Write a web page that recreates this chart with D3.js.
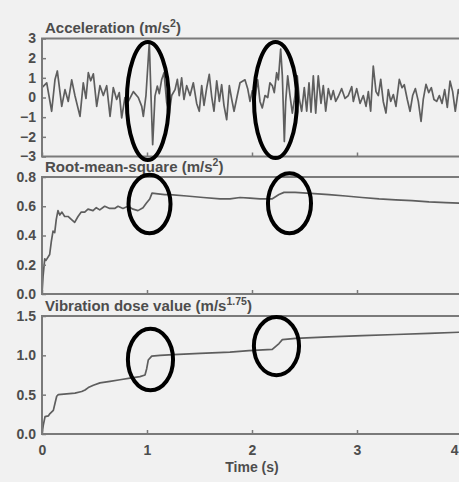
<!DOCTYPE html>
<html>
<head>
<meta charset="utf-8">
<script src="https://cdn.jsdelivr.net/npm/d3@7"></script>
<style>
  html, body { margin: 0; padding: 0; background: #f1f1f1; }
  svg { display: block; }
  text { font-family: "Liberation Sans", Arial, sans-serif; font-weight: bold; fill: #4d4d4d; }
</style>
</head>
<body>
<svg id="chart" width="459" height="482"></svg>
<script>
// time axis (s)
const timeTicks = [0, 1, 2, 3, 4];

// acceleration trace, [time s, m/s2]
const accel = [
  [0, 0.5], [0.045, 0.74], [0.092, -0.7], [0.124, 0.92], [0.146, 1.35], [0.188, -0.45],
  [0.219, 0.4], [0.25, -0.2], [0.283, 0.9], [0.314, 0.09], [0.362, -0.96], [0.393, 0.74],
  [0.419, -0.05], [0.441, 1.26], [0.464, 0.85], [0.489, 1.2], [0.521, -0.45], [0.552, 0.6],
  [0.584, 0.1], [0.616, 0.6], [0.648, -0.96], [0.679, 0.5], [0.711, -0.1], [0.736, 0.25],
  [0.759, -1.04], [0.79, 0], [0.822, -0.2], [0.87, 0.3], [0.917, 0], [0.95, -0.45],
  [0.965, -0.96], [0.99, 0.1], [1.022, 2.8], [1.038, 0.1], [1.054, -2.4], [1.076, 0.07],
  [1.098, 0.58], [1.117, 0.2], [1.14, 0.92], [1.162, 1.26], [1.188, -0.27], [1.212, -0.77],
  [1.235, 0.1], [1.267, 0.4], [1.289, 0.92], [1.307, 0.1], [1.33, 1.0], [1.352, -0.1],
  [1.378, 0.6], [1.41, 0.1], [1.441, 0.75], [1.473, -0.3], [1.498, -0.7], [1.521, 0.6],
  [1.543, -0.4], [1.569, 0.5], [1.593, 1.18], [1.616, 0.05], [1.638, -0.7], [1.664, 0.85],
  [1.689, -0.2], [1.711, 0.65], [1.733, -0.4], [1.759, -1.13], [1.784, 0.6], [1.807, -0.1],
  [1.829, -0.7], [1.86, 0.1], [1.886, 0.75], [1.933, 0.9], [1.959, 0.45], [1.981, -0.2],
  [2.003, 0.35], [2.029, 0.0], [2.054, 0.9], [2.076, -0.2], [2.098, -0.53], [2.124, 0.1],
  [2.15, 0.0], [2.171, 0.75], [2.194, 0.6], [2.212, 0.25], [2.235, 1.26], [2.251, 0.9],
  [2.273, 2.46], [2.289, 1.1], [2.308, -2.24], [2.321, -0.2], [2.34, 1.1], [2.362, 0.1],
  [2.384, -0.79], [2.41, 0.1], [2.431, 1.1], [2.451, -0.1], [2.473, -0.7], [2.498, 0.5],
  [2.521, -0.7], [2.543, 0.75], [2.562, -0.75], [2.584, 1.1], [2.607, -0.8], [2.631, 1.1],
  [2.657, -0.3], [2.679, 0.6], [2.702, -0.7], [2.727, 0.45], [2.752, -0.1], [2.774, 0.35],
  [2.797, -0.2], [2.822, 0.05], [2.854, 0.45], [2.886, -0.05], [2.917, 0.1], [2.95, 0.55],
  [2.965, -0.2], [2.997, 0.45], [3.029, -0.3], [3.06, 0.1], [3.086, -0.45], [3.108, 0.3],
  [3.13, -0.7], [3.155, 1.6], [3.181, 0.3], [3.203, 0.1], [3.226, 0.92], [3.25, -0.2],
  [3.276, -0.79], [3.298, 0.4], [3.321, -0.2], [3.346, 0.15], [3.371, -0.45], [3.403, 0.92],
  [3.429, 0.5], [3.45, 0.65], [3.479, -0.1], [3.505, -0.7], [3.53, 0.1], [3.556, 0.45],
  [3.584, -0.2], [3.61, -1.21], [3.631, -0.1], [3.657, 0.67], [3.683, 0.25], [3.708, 0.5],
  [3.733, -0.1], [3.759, -0.2], [3.784, 0.1], [3.81, -0.3], [3.835, 0.4], [3.86, -0.5],
  [3.886, 0.84], [3.911, 0.3], [3.936, -0.7], [3.965, 0.4], [3.99, 0.0]
];
const accTicks = [3, 2, 1, 0, -1, -2, -3];

// running r.m.s. (m/s2)
const rms = [
  [0, 0], [0.01, 0.12], [0.026, 0.24], [0.038, 0.23], [0.073, 0.27], [0.089, 0.36],
  [0.105, 0.43], [0.121, 0.42], [0.136, 0.51], [0.152, 0.57], [0.169, 0.54], [0.19, 0.56],
  [0.216, 0.53], [0.248, 0.53], [0.279, 0.51], [0.311, 0.49], [0.343, 0.53], [0.374, 0.56],
  [0.407, 0.56], [0.438, 0.58], [0.486, 0.57], [0.517, 0.59], [0.55, 0.575], [0.597, 0.6],
  [0.645, 0.585], [0.692, 0.585], [0.724, 0.6], [0.771, 0.585], [0.819, 0.6], [0.867, 0.58],
  [0.914, 0.57], [0.962, 0.59], [0.993, 0.62], [1.026, 0.65], [1.048, 0.69], [1.105, 0.685],
  [1.169, 0.68], [1.219, 0.68], [1.378, 0.67], [1.536, 0.66], [1.695, 0.65], [1.79, 0.65],
  [1.886, 0.66], [1.981, 0.655], [2.076, 0.65], [2.19, 0.65], [2.257, 0.68], [2.305, 0.695],
  [2.41, 0.695], [2.521, 0.69], [2.733, 0.68], [2.892, 0.67], [3.048, 0.66], [3.21, 0.65],
  [3.369, 0.643], [3.524, 0.638], [3.686, 0.63], [3.845, 0.625], [4.0, 0.62]
];
const rmsTicks = [0, 0.2, 0.4, 0.6, 0.8];

// vibration dose value (m/s^1.75)
const vdv = [
  [0, 0], [0.012, 0.11], [0.029, 0.22], [0.06, 0.23], [0.076, 0.26], [0.108, 0.3],
  [0.124, 0.39], [0.14, 0.48], [0.155, 0.5], [0.235, 0.51], [0.314, 0.52], [0.378, 0.54],
  [0.41, 0.56], [0.441, 0.59], [0.489, 0.62], [0.552, 0.65], [0.648, 0.67], [0.743, 0.69],
  [0.838, 0.71], [0.933, 0.73], [0.981, 0.75], [0.997, 0.83], [1.012, 0.94], [1.045, 0.99],
  [1.124, 1.0], [1.25, 1.01], [1.505, 1.025], [1.79, 1.04], [1.971, 1.06], [2.193, 1.075],
  [2.257, 1.15], [2.289, 1.2], [2.416, 1.215], [2.733, 1.235], [3.05, 1.25], [3.369, 1.265],
  [3.686, 1.28], [4.0, 1.295]
];
const vdvTicks = [0, 0.5, 1.0, 1.5];

// highlighted events: [centre time, centre value, half-width s, half-height in value units]
const accMarks = [[1.008, -0.18, 0.2, 3.0], [2.224, -0.13, 0.205, 2.95]];
const rmsMarks = [[1.024, 0.615, 0.2, 0.2], [2.357, 0.62, 0.205, 0.205]];
const vdvMarks = [[1.033, 0.947, 0.215, 0.39], [2.233, 1.118, 0.215, 0.37]];

const svg = d3.select('#chart');
const W = +svg.attr('width');
const x = d3.scaleLinear().domain([0, 4]).range([42, 462]);

const panels = [
  { title: 'Acceleration (m/s', sup: '2', data: accel, ticks: accTicks, fmt: d3.format('d'),
    domain: [-3, 3], range: [156.5, 38.5], titleY: 33, marks: accMarks },
  { title: 'Root-mean-square (m/s', sup: '2', data: rms, ticks: rmsTicks, fmt: d3.format('.1f'),
    domain: [0, 0.8], range: [294, 177], titleY: 172, marks: rmsMarks },
  { title: 'Vibration dose value (m/s', sup: '1.75', data: vdv, ticks: vdvTicks, fmt: d3.format('.1f'),
    domain: [0, 1.5], range: [434, 316], titleY: 311, marks: vdvMarks }
];

panels.forEach((p, i) => {
  const y = d3.scaleLinear().domain(p.domain).range(p.range);
  const g = svg.append('g');
  const last = i === panels.length - 1;

  // title with superscript unit
  const t = g.append('text')
    .attr('x', 45)
    .attr('y', p.titleY)
    .style('font-size', '15px')
    .text(p.title);
  t.append('tspan').attr('dy', -6).style('font-size', '10.5px').text(p.sup);
  t.append('tspan').attr('dy', 6).text(')');

  // trace
  g.append('path')
    .datum(p.data)
    .attr('fill', 'none')
    .attr('stroke', '#5e5e5e')
    .attr('stroke-width', 1.7)
    .attr('stroke-linejoin', 'round')
    .attr('d', d3.line().x(d => x(d[0])).y(d => y(d[1])));

  // frame
  g.append('rect')
    .attr('x', x(0))
    .attr('y', p.range[1])
    .attr('width', x(4) - x(0))
    .attr('height', p.range[0] - p.range[1])
    .attr('fill', 'none')
    .attr('stroke', '#7a7a7a')
    .attr('stroke-width', 2);

  // y axis, ticks pointing inward
  const ya = g.append('g')
    .attr('transform', `translate(${x(0)},0)`)
    .call(d3.axisLeft(y).tickValues(p.ticks).tickFormat(p.fmt)
      .tickSizeInner(-4).tickSizeOuter(0).tickPadding(6));
  ya.select('.domain').remove();
  ya.selectAll('line').attr('stroke', '#7a7a7a').attr('stroke-width', 1.5);
  ya.selectAll('text').style('font-size', '14px').attr('fill', '#4d4d4d');

  // x axis along the bottom of each frame
  const xa = g.append('g')
    .attr('transform', `translate(0,${p.range[0]})`)
    .call(d3.axisBottom(x).tickValues(timeTicks).tickFormat(last ? d3.format('d') : '')
      .tickSizeInner(-4).tickSizeOuter(0).tickPadding(11));
  xa.select('.domain').remove();
  xa.selectAll('line').attr('stroke', '#7a7a7a').attr('stroke-width', 1.5);
  xa.selectAll('text').style('font-size', '14px').attr('fill', '#4d4d4d');
  // last tick label sits on the page edge: keep it inside
  xa.selectAll('.tick text')
    .filter(d => x(d) + 5 > W)
    .attr('text-anchor', 'end')
    .attr('x', W - 1 - x(4));

  // hand-drawn style ellipses around the events
  g.selectAll('ellipse')
    .data(p.marks)
    .join('ellipse')
    .attr('cx', d => x(d[0]))
    .attr('cy', d => y(d[1]))
    .attr('rx', d => x(d[2]) - x(0))
    .attr('ry', d => Math.abs(y(d[3]) - y(0)))
    .attr('fill', 'none')
    .attr('stroke', '#000')
    .attr('stroke-width', 4);
});

svg.append('text')
  .attr('x', 252)
  .attr('y', 472)
  .attr('text-anchor', 'middle')
  .style('font-size', '14px')
  .text('Time (s)');
</script>
</body>
</html>
